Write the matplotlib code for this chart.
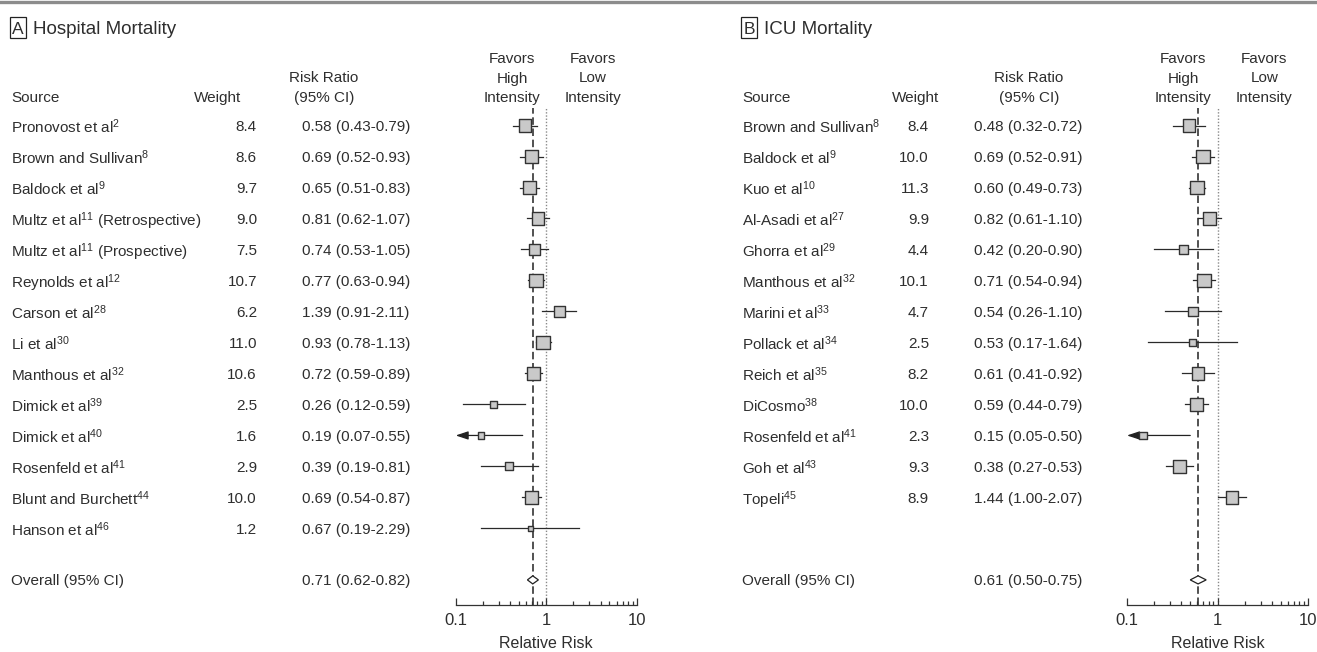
import matplotlib
matplotlib.use("Agg")
import matplotlib.pyplot as plt
import matplotlib.transforms as mtransforms
from matplotlib.patches import Rectangle, Polygon
from matplotlib.lines import Line2D
from matplotlib.ticker import FixedLocator, NullFormatter
import numpy as np

plt.rcParams["font.family"] = ["Liberation Sans", "DejaVu Sans"]
plt.rcParams["mathtext.default"] = "regular"
plt.rcParams["font.size"] = 11

# panel A: hospital mortality
sources_a = ["Pronovost et al$^{2}$", "Brown and Sullivan$^{8}$", "Baldock et al$^{9}$",
             "Multz et al$^{11}$ (Retrospective)", "Multz et al$^{11}$ (Prospective)",
             "Reynolds et al$^{12}$", "Carson et al$^{28}$", "Li et al$^{30}$",
             "Manthous et al$^{32}$", "Dimick et al$^{39}$", "Dimick et al$^{40}$",
             "Rosenfeld et al$^{41}$", "Blunt and Burchett$^{44}$", "Hanson et al$^{46}$"]
weights_a = [8.4, 8.6, 9.7, 9.0, 7.5, 10.7, 6.2, 11.0, 10.6, 2.5, 1.6, 2.9, 10.0, 1.2]
rr_a = [0.58, 0.69, 0.65, 0.81, 0.74, 0.77, 1.39, 0.93, 0.72, 0.26, 0.19, 0.39, 0.69, 0.67]
lo_a = [0.43, 0.52, 0.51, 0.62, 0.53, 0.63, 0.91, 0.78, 0.59, 0.12, 0.07, 0.19, 0.54, 0.19]
hi_a = [0.79, 0.93, 0.83, 1.07, 1.05, 0.94, 2.11, 1.13, 0.89, 0.59, 0.55, 0.81, 0.87, 2.29]
overall_a = [0.71, 0.62, 0.82]

# panel B: ICU mortality
sources_b = ["Brown and Sullivan$^{8}$", "Baldock et al$^{9}$", "Kuo et al$^{10}$",
             "Al-Asadi et al$^{27}$", "Ghorra et al$^{29}$", "Manthous et al$^{32}$",
             "Marini et al$^{33}$", "Pollack et al$^{34}$", "Reich et al$^{35}$",
             "DiCosmo$^{38}$", "Rosenfeld et al$^{41}$", "Goh et al$^{43}$", "Topeli$^{45}$"]
weights_b = [8.4, 10.0, 11.3, 9.9, 4.4, 10.1, 4.7, 2.5, 8.2, 10.0, 2.3, 9.3, 8.9]
rr_b = [0.48, 0.69, 0.60, 0.82, 0.42, 0.71, 0.54, 0.53, 0.61, 0.59, 0.15, 0.38, 1.44]
lo_b = [0.32, 0.52, 0.49, 0.61, 0.20, 0.54, 0.26, 0.17, 0.41, 0.44, 0.05, 0.27, 1.00]
hi_b = [0.72, 0.91, 0.73, 1.10, 0.90, 0.94, 1.10, 1.64, 0.92, 0.79, 0.50, 0.53, 2.07]
overall_b = [0.61, 0.50, 0.75]

xticks = [0.1, 1, 10]
xtick_labels = ["0.1", "1", "10"]

W, H = 1317, 652
TXT = "#2e2e2e"
EDGE = "#333333"


def fx(x):
    return x / W


def fy(y):
    return 1 - y / H


fig = plt.figure(figsize=(W / 100, H / 100), dpi=100)
fig.add_artist(Line2D([0, 1], [fy(1.5), fy(1.5)], transform=fig.transFigure,
                      color="#8c8c8c", lw=2.4))


def panel(letter, title, x0, ax_left, x_weight, x_rr, x_whead, x_rrhead,
          sources, weights, rr, lo, hi, overall):
    # letter box and title
    fig.add_artist(Rectangle((fx(x0), fy(38)), 16 / W, 21 / H, transform=fig.transFigure,
                             fill=False, ec="#222222", lw=0.9))
    fig.text(fx(x0 + 8), fy(27.5), letter, ha="center", va="center_baseline",
             fontsize=12.5, color=TXT)
    fig.text(fx(x0 + 23), fy(27.5), title, ha="left", va="center_baseline",
             fontsize=13.5, color=TXT)

    ax = fig.add_axes([fx(ax_left), fy(605), 181 / W, (605 - 108) / H])
    ax.set_xscale("log")
    ax.set_xlim(0.1, 10)
    ax.set_ylim(15.47, -0.565)
    ax.patch.set_alpha(0)
    for s in ["left", "right", "top"]:
        ax.spines[s].set_visible(False)
    ax.spines["bottom"].set_color(EDGE)
    ax.spines["bottom"].set_linewidth(0.9)
    ax.set_yticks([])
    ax.xaxis.set_major_locator(FixedLocator(xticks))
    ax.set_xticklabels(xtick_labels)
    minors = [m * d for d in (0.1, 1) for m in range(2, 10)]
    ax.xaxis.set_minor_locator(FixedLocator(minors))
    ax.xaxis.set_minor_formatter(NullFormatter())
    ax.tick_params(axis="x", which="major", direction="in", length=5, width=0.9,
                   color=EDGE, labelsize=12, labelcolor=TXT, pad=6)
    ax.tick_params(axis="x", which="minor", direction="in", length=3, width=0.9, color=EDGE)

    est, olo, ohi = overall
    ax.axvline(est, color="#333333", lw=1.2, ls=(0, (4.5, 2.2)), zorder=1)
    ax.axvline(1, color="#8a8a8a", lw=1.0, ls=(0, (1, 1.3)), zorder=1)

    rows = np.arange(len(sources))
    for i in rows:
        if lo[i] < 0.1:
            ax.annotate("", xy=(0.1, i), xytext=(hi[i], i),
                        arrowprops=dict(arrowstyle="-|>,head_length=0.75,head_width=0.25",
                                        color="#222222", lw=0.9, shrinkA=0, shrinkB=0,
                                        mutation_scale=10), zorder=2)
        else:
            ax.plot([lo[i], hi[i]], [i, i], color="#2a2a2a", lw=0.9, zorder=2)
    side = 1.8 + 3.6 * np.sqrt(np.array(weights))
    ax.scatter(rr, rows, s=(side * 0.72) ** 2, marker="s", facecolor="#c9c9c9",
               edgecolor=EDGE, linewidth=1.0, zorder=3)

    y_over = 14.66
    dia = Polygon([(olo, y_over), (est, y_over - 0.13), (ohi, y_over), (est, y_over + 0.13)],
                  closed=True, facecolor="white", edgecolor="#222222", lw=0.9, zorder=3)
    ax.add_patch(dia)

    # text columns
    tr = mtransforms.blended_transform_factory(fig.transFigure, ax.transData)
    for i in rows:
        ax.text(fx(x0 + 1), i, sources[i], transform=tr, ha="left", va="center_baseline",
                color=TXT, fontsize=11)
        ax.text(fx(x_weight), i, "%.1f" % weights[i], transform=tr, ha="right",
                va="center_baseline", color=TXT, fontsize=11)
        ax.text(fx(x_rr), i, "%.2f (%.2f-%.2f)" % (rr[i], lo[i], hi[i]), transform=tr,
                ha="left", va="center_baseline", color=TXT, fontsize=11)
    ax.text(fx(x0 + 1), y_over, "Overall (95% CI)", transform=tr, ha="left",
            va="center_baseline", color=TXT, fontsize=11)
    ax.text(fx(x_rr), y_over, "%.2f (%.2f-%.2f)" % (est, olo, ohi), transform=tr,
            ha="left", va="center_baseline", color=TXT, fontsize=11)

    # headers
    fig.text(fx(x0 + 1), fy(102), "Source", ha="left", va="baseline", color=TXT)
    fig.text(fx(x_whead), fy(102), "Weight", ha="center", va="baseline", color=TXT)
    fig.text(fx(x_rrhead), fy(102), "Risk Ratio\n(95% CI)", ha="center", va="baseline",
             multialignment="center", color=TXT, linespacing=1.5)
    trh = mtransforms.blended_transform_factory(ax.transData, fig.transFigure)
    ax.text(0.42, fy(102), "Favors\nHigh\nIntensity", transform=trh, ha="center",
            va="baseline", multialignment="center", color=TXT, linespacing=1.5)
    ax.text(3.3, fy(102), "Favors\nLow\nIntensity", transform=trh, ha="center",
            va="baseline", multialignment="center", color=TXT, linespacing=1.5)
    fig.text(fx(ax_left + 90.5), fy(643), "Relative Risk", ha="center", va="center",
             color=TXT, fontsize=11.5)
    return ax


panel("A", "Hospital Mortality", 10, 455.7, 257, 302, 218, 324,
      sources_a, weights_a, rr_a, lo_a, hi_a, overall_a)
panel("B", "ICU Mortality", 741, 1127, 929, 974, 916, 1029,
      sources_b, weights_b, rr_b, lo_b, hi_b, overall_b)

fig.savefig("out.png", dpi=100)
